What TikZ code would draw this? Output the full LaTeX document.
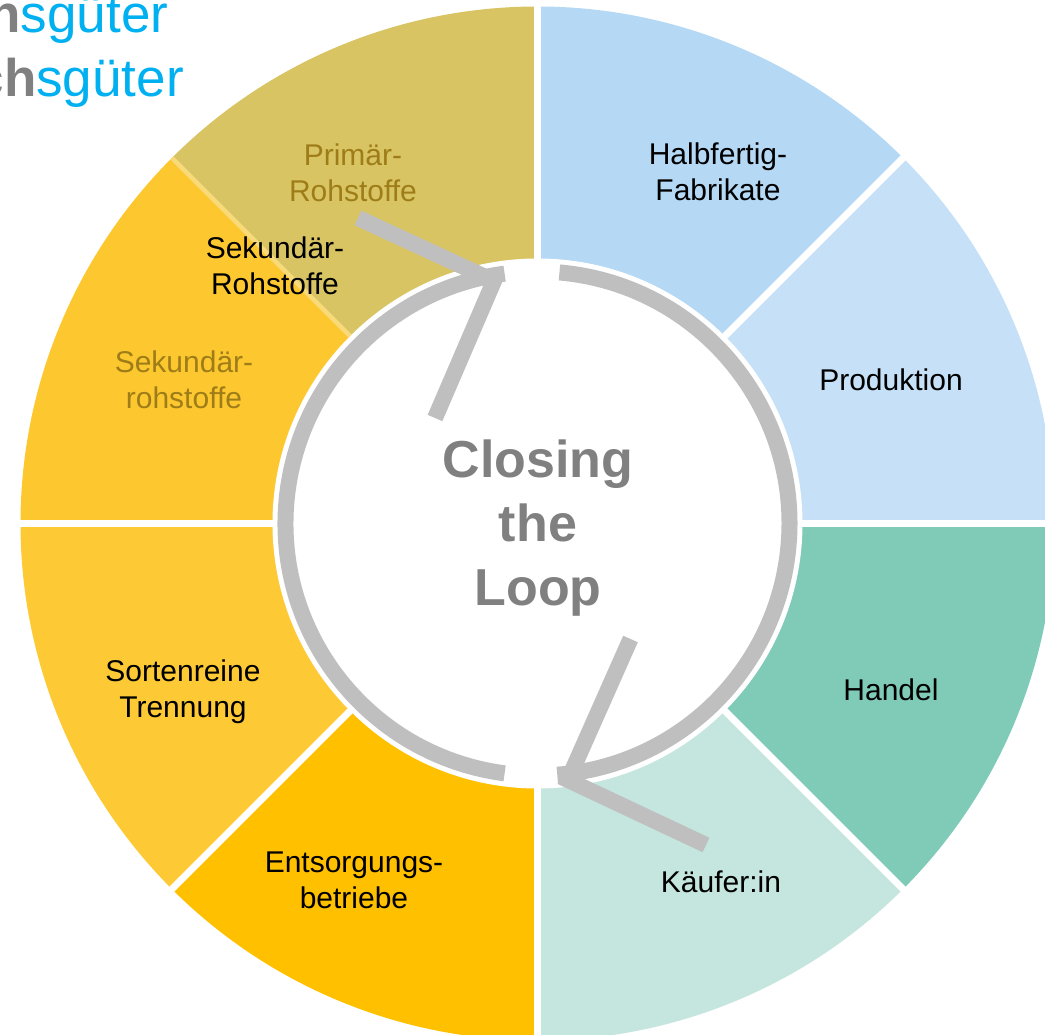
\documentclass[tikz,border=0pt]{standalone}
\usepackage{fontspec}
\setmainfont{Liberation Sans}
\definecolor{cPrim}{HTML}{D8C463}
\definecolor{cSek}{HTML}{FDC82F}
\definecolor{cSort}{HTML}{FDCA35}
\definecolor{cEnts}{HTML}{FFC000}
\definecolor{cKauf}{HTML}{C5E6DE}
\definecolor{cHand}{HTML}{7FCBB8}
\definecolor{cProd}{HTML}{C6E1F7}
\definecolor{cHalb}{HTML}{B5D8F4}
\definecolor{cLoop}{HTML}{BFBFBF}
\definecolor{cGhost}{HTML}{9E7D19}
\definecolor{cSep}{HTML}{F8DA7A}
\definecolor{cCyan}{HTML}{00B0F0}
\definecolor{cGrey}{HTML}{808080}
\tikzset{
  lbl/.style={align=center, inner sep=0pt, font=\fontsize{30}{36}\selectfont, text=black},
  ghost/.style={lbl, text=cGhost},
  looparc/.style={draw=cLoop, line width=16pt, line cap=butt},
  gapline/.style={draw=white, line width=7pt},
  title/.style={align=center, inner sep=0pt, text=cGrey, font=\fontsize{52}{64}\selectfont\bfseries},
  corner/.style={anchor=base east, inner sep=0pt, font=\fontsize{53}{60}\selectfont, text=cCyan}
}
\begin{document}
\begin{tikzpicture}[x=1pt,y=1pt]
\useasboundingbox (-537.5,-511.5) rectangle (507.5,523.5);
\fill[white] (-537.5,-511.5) rectangle (507.5,523.5);
\def\R{517}
% sectors
\foreach \a/\b/\c in {90/135/cPrim,135/180/cSek,180/225/cSort,225/270/cEnts,270/315/cKauf,315/360/cHand,0/45/cProd,45/90/cHalb}
  \fill[\c] (0,0) -- (\a:\R) arc[start angle=\a, end angle=\b, radius=\R] -- cycle;
\fill[white] (0,0) circle (265);
\foreach \a in {0,45,90,180,225,270,315}
  \draw[gapline] (\a:262) -- (\a:525);
\draw[cSep, line width=4.5pt] (135:265) -- (135:\R);
% loop arrows
\draw[looparc] (262.5:252) arc[start angle=262.5, end angle=97.5, radius=252];
\draw[looparc] (85:252) arc[start angle=85, end angle=-85.5, radius=252];
\coordinate (t1) at (-179.5,305.5);
\coordinate (t2) at (-43.5,242.5);
\coordinate (t3) at (-102.5,105.5);
\coordinate (b1) at (93,-115.5);
\coordinate (b2) at (30.5,-256.5);
\coordinate (b3) at (168.5,-321.5);
\draw[looparc, line join=miter] (t1) -- (t2) -- (t3);
\draw[looparc, line join=miter] (b1) -- (b2) -- (b3);
% labels
\node[lbl] (halb) at (180.5,351.5) {Halbfertig-\\Fabrikate};
\node[lbl] (prod) at (353.5,143.5) {Produktion};
\node[lbl] (hand) at (353.5,-166.5) {Handel};
\node[lbl] (kauf) at (183.5,-358.5) {Käufer:in};
\node[lbl] (ents) at (-183.5,-356.5) {Entsorgungs-\\betriebe};
\node[lbl] (sort) at (-354.5,-168.5) {Sortenreine\\Trennung};
\node[ghost] (sekg) at (-353.5,143.5) {Sekundär-\\rohstoffe};
\node[lbl] (sek) at (-262.5,257.5) {Sekundär-\\Rohstoffe};
\node[ghost] (prim) at (-184.5,350.5) {Primär-\\Rohstoffe};
\node[title] (loop) at (0.5,-4.5) {Closing\\the\\Loop};
% clipped corner text
\node[corner] (c1) at (-369,490.5) {{\bfseries\color{cGrey}h}sgüter};
\node[corner] (c2) at (-353.5,426.5) {{\bfseries\color{cGrey}ch}sgüter};
\end{tikzpicture}
\end{document}
